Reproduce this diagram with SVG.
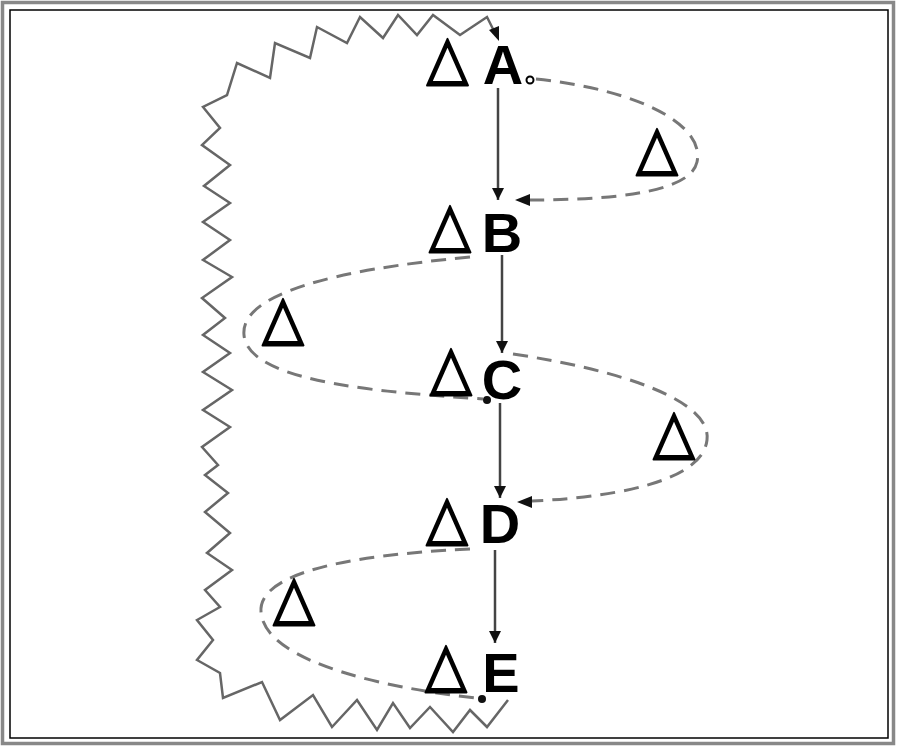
<svg xmlns="http://www.w3.org/2000/svg" width="900" height="750" viewBox="0 0 900 750">
<defs>
<style>
.node{font-family:"Liberation Sans",Arial,sans-serif;font-weight:bold;font-size:56px;fill:#000;text-anchor:middle}
.tri{font-family:"DejaVu Sans",sans-serif;font-size:50px;fill:#000;stroke:#000;stroke-width:1.6;stroke-linejoin:round;text-anchor:middle}
.solid{fill:none;stroke:#444;stroke-width:2.5}
.dash{fill:none;stroke:#777;stroke-width:3;stroke-dasharray:15 9}
.zig{fill:none;stroke:#666;stroke-width:2.5;stroke-linejoin:miter}
.head{fill:#111}
</style>
<marker id="arr" viewBox="0 0 10 10" refX="10" refY="5" markerWidth="14" markerHeight="12" markerUnits="userSpaceOnUse" orient="auto">
<path d="M0,0 L10,5 L0,10 z" fill="#111"/>
</marker>
</defs>
<rect x="0" y="0" width="900" height="750" fill="#fff"/>
<rect x="2.5" y="2.5" width="891" height="741" fill="none" stroke="#888" stroke-width="3.5"/>
<rect x="10" y="10" width="878" height="728" fill="none" stroke="#000" stroke-width="1.5"/>

<g id="connectors">
<g id="e_A_B"><path class="solid" d="M498,88 L498,200" marker-end="url(#arr)"/></g>
<g id="e_B_C"><path class="solid" d="M502,255 L502,353" marker-end="url(#arr)"/></g>
<g id="e_C_D"><path class="solid" d="M500,403 L500,498" marker-end="url(#arr)"/></g>
<g id="e_D_E"><path class="solid" d="M495,550 L495,643" marker-end="url(#arr)"/></g>

<g id="e_A_B_dash">
<circle cx="530" cy="80" r="3.5" fill="#fff" stroke="#000" stroke-width="2"/>
<path class="dash" d="M536,79 C640,90 705,125 697,162 C690,195 600,200 528,200"/>
<path class="head" d="M515,200 L530,194 L530,206 z"/>
<text class="tri" transform="translate(657,168) scale(1.08,1.22)" x="0" y="0">△</text>
</g>
<g id="e_B_C_dash">
<path class="dash" d="M470,257 C330,270 240,295 244,335 C248,385 400,393 483,399"/>
<circle cx="487" cy="400" r="4" fill="#111"/>
<text class="tri" transform="translate(283,338) scale(1.08,1.22)" x="0" y="0">△</text>
</g>
<g id="e_C_D_dash">
<path class="dash" d="M513,354 C620,370 712,400 707,440 C702,485 600,498 532,501"/>
<path class="head" d="M517,502 L532,496 L532,508 z"/>
<text class="tri" transform="translate(674,452) scale(1.08,1.22)" x="0" y="0">△</text>
</g>
<g id="e_D_E_dash">
<path class="dash" d="M470,549 C340,555 258,575 261,612 C265,665 400,690 477,698"/>
<circle cx="482" cy="699" r="4" fill="#111"/>
<text class="tri" transform="translate(294,618) scale(1.08,1.22)" x="0" y="0">△</text>
</g>
<g id="e_E_A_zig">
<polyline class="zig" points="508,700 487,727 470,710 453,732 430,707 410,728 393,703 377,730 357,700 332,727 313,695 280,720 262,682 223,698 220,673 197,660 213,640 197,620 220,607 205,590 232,570 207,553 230,533 205,512 228,493 205,475 218,465 202,447 230,427 203,410 232,390 203,372 230,353 203,335 225,318 202,298 232,277 203,260 230,240 203,222 230,203 204,186 230,165 202,145 220,128 203,107 227,95 237,63 270,78 275,43 310,58 317,27 347,43 360,17 383,38 398,15 417,35 433,15 460,35 487,17 494,31"/>
<path class="head" d="M499,41 L489,30 L499,26 z"/>
</g>
</g>

<g id="node_A"><text class="node" x="503" y="84">A</text><text class="tri" transform="translate(447.5,78) scale(1.08,1.22)" x="0" y="0">△</text></g>
<g id="node_B"><text class="node" x="502" y="252">B</text><text class="tri" transform="translate(450,245) scale(1.08,1.22)" x="0" y="0">△</text></g>
<g id="node_C"><text class="node" x="502" y="399">C</text><text class="tri" transform="translate(451,388) scale(1.08,1.22)" x="0" y="0">△</text></g>
<g id="node_D"><text class="node" x="500" y="543">D</text><text class="tri" transform="translate(447,538) scale(1.08,1.22)" x="0" y="0">△</text></g>
<g id="node_E"><text class="node" x="501" y="692">E</text><text class="tri" transform="translate(446,685) scale(1.08,1.22)" x="0" y="0">△</text></g>
</svg>
